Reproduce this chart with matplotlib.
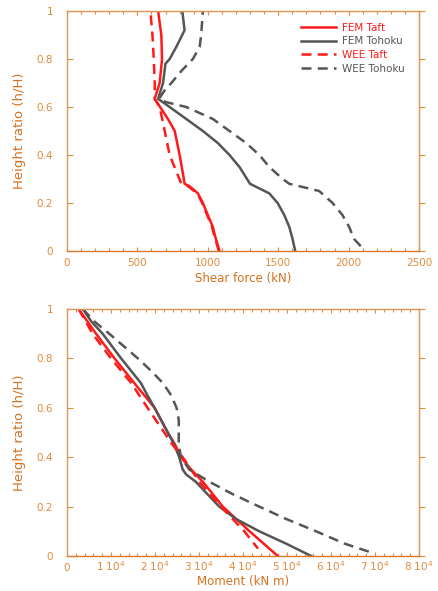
import matplotlib
matplotlib.use("Agg")
import matplotlib.pyplot as plt
from matplotlib.ticker import MultipleLocator, FixedLocator

# ---------------- data: shear force (kN) ----------------
h_fem_taft_v = [0.0, 0.07, 0.10, 0.15, 0.20, 0.24, 0.27, 0.28, 0.30, 0.40, 0.50, 0.55, 0.634, 0.70, 0.80, 0.90, 1.0]
v_fem_taft = [1083, 1048, 1036, 1000, 965, 930, 870, 835, 830, 800, 765, 717, 623, 658, 675, 670, 647]

h_wee_taft_v = [0.0, 0.07, 0.10, 0.15, 0.20, 0.24, 0.27, 0.28, 0.40, 0.50, 0.60, 0.634, 0.70, 0.80, 0.90, 1.0]
v_wee_taft = [1078, 1043, 1030, 995, 960, 925, 860, 812, 729, 694, 658, 623, 623, 616, 607, 592]

h_fem_toh_v = [0.0, 0.05, 0.10, 0.15, 0.20, 0.24, 0.28, 0.35, 0.40, 0.45, 0.50, 0.55, 0.60, 0.634, 0.70, 0.78, 0.80, 0.85, 0.92, 1.0]
v_fem_toh = [1621, 1602, 1579, 1543, 1496, 1437, 1300, 1225, 1154, 1071, 965, 847, 729, 647, 682, 699, 729, 776, 835, 819]

h_wee_toh_v = [0.02, 0.05, 0.10, 0.15, 0.20, 0.25, 0.27, 0.28, 0.30, 0.35, 0.40, 0.45, 0.50, 0.55, 0.60, 0.62, 0.634, 0.67, 0.70, 0.75, 0.80, 0.85, 0.90, 1.0]
v_wee_toh = [2086, 2039, 2004, 1956, 1886, 1791, 1650, 1579, 1532, 1437, 1366, 1272, 1154, 1036, 847, 706, 654, 694, 741, 812, 894, 942, 953, 965]

# ---------------- data: moment (kN m) ----------------
h_fem_taft_m = [1.0, 0.9, 0.8, 0.7, 0.6, 0.5, 0.45, 0.4, 0.35, 0.3, 0.2, 0.1, 0.0]
m_fem_taft = [2650, 6600, 10800, 15300, 19900, 22900, 24600, 25900, 28200, 30900, 35400, 41500, 47900]

h_wee_taft_m = [1.0, 0.9, 0.8, 0.7, 0.6, 0.5, 0.45, 0.4, 0.3, 0.2, 0.1, 0.03]
m_wee_taft = [2650, 5800, 10000, 14600, 18300, 22100, 24000, 26300, 30100, 35000, 40300, 43400]

h_fem_toh_m = [1.0, 0.95, 0.9, 0.8, 0.7, 0.65, 0.6, 0.5, 0.45, 0.4, 0.35, 0.33, 0.3, 0.2, 0.15, 0.1, 0.05, 0.0]
m_fem_toh = [3600, 5500, 8100, 12300, 16800, 18300, 19900, 22900, 24400, 25500, 26300, 27100, 29300, 34600, 38400, 43700, 49800, 55500]

h_wee_toh_m = [1.0, 0.95, 0.9, 0.8, 0.75, 0.7, 0.65, 0.6, 0.55, 0.5, 0.45, 0.4, 0.35, 0.3, 0.25, 0.2, 0.15, 0.1, 0.05, 0.01]
m_wee_toh = [3600, 6200, 9600, 16100, 19100, 21800, 23700, 24900, 25400, 25400, 25400, 25900, 27800, 32400, 37700, 43700, 49800, 56600, 63100, 69900]

legend_labels = ["FEM Taft", "FEM Tohoku", "WEE Taft", "WEE Tohoku"]
y_ticks = [0, 0.2, 0.4, 0.6, 0.8, 1.0]
y_ticklabels = ["0", "0.2", "0.4", "0.6", "0.8", "1"]
moment_ticks = [0, 10000, 20000, 30000, 40000, 50000, 60000, 70000, 80000]
moment_ticklabels = ["0"] + [r"%d 10$^{4}$" % i for i in range(1, 9)]

RED = "#ff1a1a"
GRAY = "#555555"
LBL = "#d4701e"
TCK = "#e08a3c"
SPN = "#e09456"

plt.rcParams["font.family"] = ["DejaVu Sans"]
plt.rcParams["font.size"] = 7.5

fig = plt.figure(figsize=(4.38, 5.91), dpi=100)
ax1 = fig.add_axes([67 / 438, 1 - 251 / 591, 352 / 438, 240 / 591])
ax2 = fig.add_axes([67 / 438, 1 - 556 / 591, 352 / 438, 247 / 591])

lw = 1.8
dash = (0, (4, 2.5))

ax1.plot(v_fem_taft, h_fem_taft_v, color=RED, lw=lw, label=legend_labels[0])
ax1.plot(v_fem_toh, h_fem_toh_v, color=GRAY, lw=lw, label=legend_labels[1])
ax1.plot(v_wee_taft, h_wee_taft_v, color=RED, lw=lw, ls=dash, label=legend_labels[2])
ax1.plot(v_wee_toh, h_wee_toh_v, color=GRAY, lw=lw, ls=dash, label=legend_labels[3])

ax2.plot(m_fem_taft, h_fem_taft_m, color=RED, lw=lw)
ax2.plot(m_fem_toh, h_fem_toh_m, color=GRAY, lw=lw)
ax2.plot(m_wee_taft, h_wee_taft_m, color=RED, lw=lw, ls=dash)
ax2.plot(m_wee_toh, h_wee_toh_m, color=GRAY, lw=lw, ls=dash)

ax1.set_xlim(0, 2500)
ax1.xaxis.set_major_locator(MultipleLocator(500))
ax1.xaxis.set_minor_locator(MultipleLocator(100))
ax1.set_xlabel("Shear force (kN)", color=LBL, fontsize=8.5, labelpad=3)

ax2.set_xlim(0, 80000)
ax2.xaxis.set_major_locator(FixedLocator(moment_ticks))
ax2.set_xticklabels(moment_ticklabels)
ax2.xaxis.set_minor_locator(MultipleLocator(2000))

for ax in (ax1, ax2):
    ax.set_ylim(0, 1)
    ax.yaxis.set_major_locator(FixedLocator(y_ticks))
    ax.set_yticklabels(y_ticklabels)
    ax.set_ylabel("Height ratio (h/H)", color=LBL, fontsize=9.5, labelpad=8)
    ax.tick_params(axis="x", which="both", direction="in", top=True, bottom=True,
                   colors=TCK, labelcolor=TCK, pad=5)
    ax.tick_params(axis="x", which="major", length=3, width=0.8)
    ax.tick_params(axis="x", which="minor", length=2.5, width=0.8)
    ax.tick_params(axis="y", which="major", direction="in", left=True, right=False,
                   length=4, width=0.8, colors=TCK, labelcolor=TCK, pad=10)
    sec = ax.secondary_yaxis("right")
    sec.yaxis.set_major_locator(FixedLocator(y_ticks))
    sec.tick_params(direction="out", length=4, width=0.8, colors=TCK, labelright=False)
    sec.spines["right"].set_color(SPN)
    for s in ax.spines.values():
        s.set_color(SPN)
        s.set_linewidth(1.0)
    ax.spines["bottom"].set_color("#d9782b")

# align moment tick labels on a common baseline
ax2.tick_params(axis="x", which="major", pad=11)
for t in ax2.get_xticklabels():
    t.set_verticalalignment("baseline")
ax2.set_xlabel("Moment (kN m)", color=LBL, fontsize=8.5, labelpad=1)

leg = ax1.legend(loc="upper right", bbox_to_anchor=(0.985, 0.99), frameon=False,
                 fontsize=7.5, handlelength=3.4, handletextpad=0.5, labelspacing=0.35)
for txt, c in zip(leg.get_texts(), [RED, GRAY, RED, GRAY]):
    txt.set_color(c)

fig.savefig("out.png", dpi=100)
